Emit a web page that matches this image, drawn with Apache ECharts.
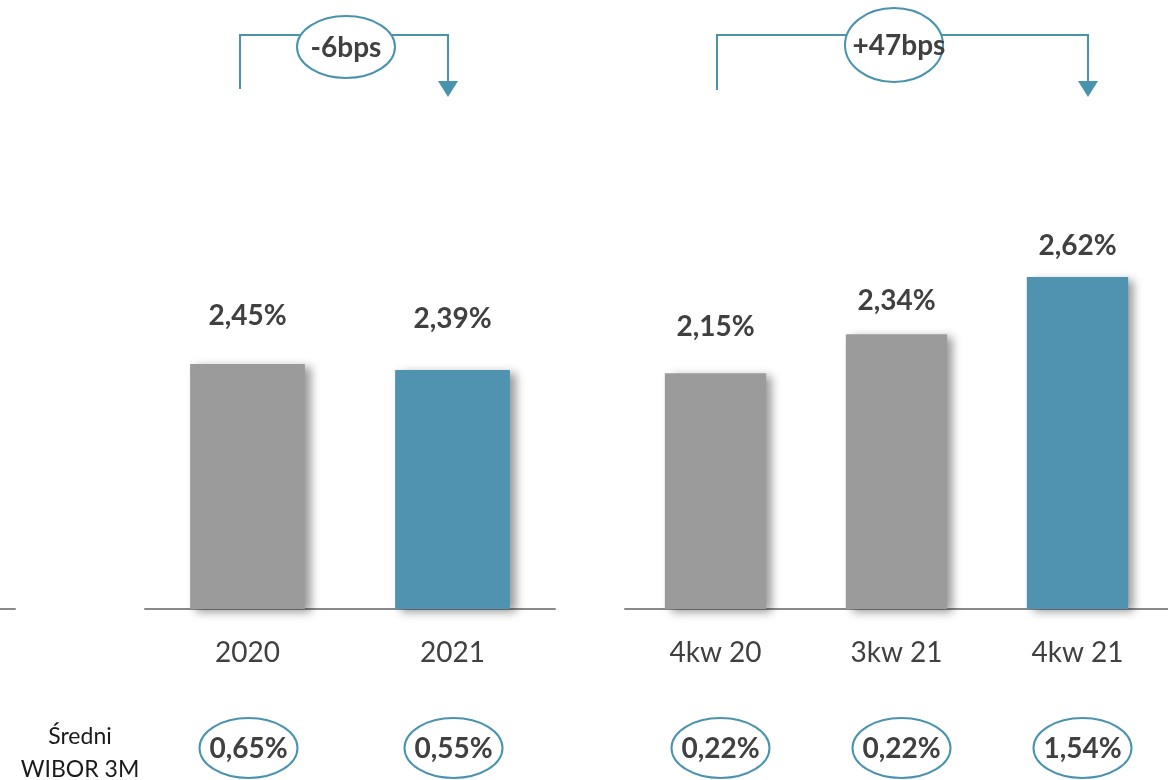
<!DOCTYPE html>
<html>
<head>
<meta charset="utf-8">
<script src="https://cdn.jsdelivr.net/npm/echarts@6/dist/echarts.min.js"></script>
<style>
  html, body { margin: 0; padding: 0; background: #fff; }
  #chart { width: 1168px; height: 780px; }
</style>
</head>
<body>
<div id="chart"></div>
<script>
// dane
const annualCats = ['2020', '2021']
const annualMargin = [2.45, 2.39]
const quarterCats = ['4kw 20', '3kw 21', '4kw 21']
const quarterMargin = [2.15, 2.34, 2.62]
const annualWibor = ['0,65%', '0,55%']
const quarterWibor = ['0,22%', '0,22%', '1,54%']
const changeLabels = ['-6bps', '+47bps']

const GRAY = '#9b9b9b'
const TEAL = '#4f93b1'
const LINE = '#4a93ae'
const TXT = '#404040'
const FONT = 'Lato, "Open Sans", sans-serif'

// odstep etykiety od slupka (jak w oryginale)
const annualLift = [34, 37]
const quarterLift = [32, 19, 17]

function pct(v) {
    return v.toFixed(2).replace('.', ',') + '%'
}

function barData(values, lift) {
    return values.map(function (v, i) {
        return {
            value: v,
            itemStyle: { color: i === values.length - 1 ? TEAL : GRAY },
            label: { distance: lift[i] }
        }
    })
}

const barSeries = function (idx, values, lift) {
    return {
        type: 'bar',
        xAxisIndex: idx,
        yAxisIndex: idx,
        barWidth: '56%',
        data: barData(values, lift),
        itemStyle: {
            shadowColor: 'rgba(0,0,0,0.4)',
            shadowBlur: 9,
            shadowOffsetX: 6,
            shadowOffsetY: 3
        },
        label: {
            show: true,
            position: 'top',
            formatter: function (p) { return pct(p.value) },
            color: TXT,
            fontFamily: FONT,
            fontWeight: 'bold',
            fontSize: 28
        }
    }
}

const catAxis = function (idx, data) {
    return {
        type: 'category',
        gridIndex: idx,
        data: data,
        axisLine: { lineStyle: { color: '#8a8a8a', width: 2 } },
        axisTick: { show: false },
        axisLabel: {
            color: TXT,
            fontFamily: FONT,
            fontSize: 28,
            margin: 30
        }
    }
}

const valAxis = function (idx, min, max) {
    return {
        type: 'value',
        gridIndex: idx,
        min: min,
        max: max,
        show: false,
        splitLine: { show: false }
    }
}

const myChart = echarts.init(document.getElementById('chart'))

const options = {
    animation: false,
    grid: [
        { left: 0, width: 15, top: 109, bottom: 171 },
        { left: 145, width: 410, top: 109, bottom: 171 },
        { left: 625, width: 550, top: 199, bottom: 171 }
    ],
    xAxis: [
        catAxis(0, ['']),
        catAxis(1, annualCats),
        catAxis(2, quarterCats)
    ],
    yAxis: [
        valAxis(0, 0, 5),
        valAxis(1, 0, 5),
        valAxis(2, 1, 3)
    ],
    series: [
        barSeries(1, annualMargin, annualLift),
        barSeries(2, quarterMargin, quarterLift)
    ]
}
myChart.setOption(options)

// adnotacje: elipsy WIBOR i strzalki zmian
function ellipseWithText(cx, cy, rx, ry, text, tx) {
    return [
        {
            type: 'ellipse',
            shape: { cx: cx, cy: cy, rx: rx, ry: ry },
            style: { fill: '#fff', stroke: LINE, lineWidth: 2 },
            z: 10
        },
        {
            type: 'text',
            x: tx === undefined ? cx : tx,
            y: cy + 1,
            style: {
                text: text,
                font: 'bold 28px ' + FONT,
                fill: TXT,
                align: 'center',
                verticalAlign: 'middle',
                textAlign: 'center',
                textVerticalAlign: 'middle'
            },
            z: 11
        }
    ]
}

function bracket(x1, x2, yTop, yLeft, arrowTip) {
    return [
        {
            type: 'polyline',
            shape: { points: [[x1, yLeft], [x1, yTop], [x2, yTop], [x2, arrowTip - 14]] },
            style: { fill: null, stroke: LINE, lineWidth: 2 },
            z: 5
        },
        {
            type: 'polygon',
            shape: { points: [[x2 - 10, arrowTip - 16], [x2 + 10, arrowTip - 16], [x2, arrowTip]] },
            style: { fill: LINE },
            z: 5
        }
    ]
}

let graphics = []
annualWibor.forEach(function (w, i) {
    const x = myChart.convertToPixel({ xAxisIndex: 1 }, annualCats[i])
    graphics = graphics.concat(ellipseWithText(x + 1, 748, 49, 30, w))
})
quarterWibor.forEach(function (w, i) {
    const x = myChart.convertToPixel({ xAxisIndex: 2 }, quarterCats[i])
    graphics = graphics.concat(ellipseWithText(x + 5, 748, 49, 30, w))
})

graphics = graphics.concat(bracket(240, 448, 35, 89, 97))
graphics = graphics.concat(bracket(717, 1088, 35, 90, 97))
graphics = graphics.concat(ellipseWithText(346, 47, 49, 31, changeLabels[0]))
// tekst +47bps wychodzi poza elipse
graphics = graphics.concat(ellipseWithText(894, 45, 49, 37, changeLabels[1], 899))

graphics.push({
    type: 'text',
    x: 80,
    y: 753,
    style: {
        text: 'Średni\nWIBOR 3M',
        font: '23px ' + FONT,
        fill: '#1a1a1a',
        lineHeight: 33,
        align: 'center',
        verticalAlign: 'middle',
        textAlign: 'center',
        textVerticalAlign: 'middle'
    }
})

myChart.setOption({ graphic: { elements: graphics } })
</script>
</body>
</html>
